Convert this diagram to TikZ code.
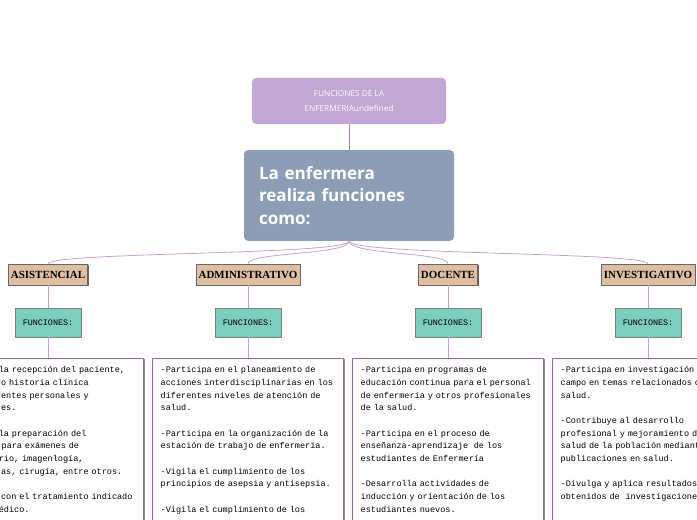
\documentclass[tikz,border=0pt]{standalone}
\usepackage{fontspec}
\setmainfont{Liberation Serif}
\setsansfont{Open Sans}
\setmonofont{Liberation Mono}
\usetikzlibrary{positioning,shadows}
\definecolor{toplila}{HTML}{C2A6D3}
\definecolor{mainblue}{HTML}{8C9DB5}
\definecolor{cattan}{HTML}{DFBFA1}
\definecolor{functeal}{HTML}{7ECEC0}
\definecolor{linkline}{HTML}{A87CC2}
\definecolor{boxline}{HTML}{9467B0}

\begin{document}
\begin{tikzpicture}[x=0.75pt,y=-0.75pt,
  title/.style={draw=none,fill=toplila,rounded corners=3pt,minimum width=145.5pt,minimum height=34.5pt,
    text=white,font=\sffamily\fontsize{6.2}{11}\selectfont,align=center},
  main/.style={draw=none,fill=mainblue,rounded corners=3pt,minimum width=157.5pt,minimum height=68pt,
    text=white,font=\sffamily\fontsize{12.8}{17}\selectfont\bfseries,align=left,text width=135pt},
  cat/.style={draw=black!60,fill=cattan,line width=0.4pt,drop shadow={shadow xshift=1pt,shadow yshift=-1pt,fill=black!60,opacity=1},
    minimum height=15.5pt,inner sep=2pt,font=\bfseries\fontsize{8.2}{9}\selectfont},
  func/.style={draw=black!50,fill=functeal,line width=0.4pt,drop shadow={shadow xshift=1pt,shadow yshift=-1pt,fill=black!60,opacity=1},
    minimum width=49.5pt,minimum height=21.5pt,font=\ttfamily\fontsize{6.3}{7}\selectfont},
  info/.style={draw=boxline,fill=white,line width=1pt,drop shadow={shadow xshift=1.2pt,shadow yshift=-0.6pt,fill=black!45,opacity=1},
    anchor=north west,align=left,inner xsep=6pt,inner ysep=6pt,text width=131pt,
    font=\ttfamily\fontsize{6.4}{9.5}\selectfont},
  link/.style={draw=linkline,line width=0.6pt},
  drop/.style={draw=linkline!70,line width=0.6pt}]
\useasboundingbox (0,0) rectangle (697,520);

% the two boxes on top
\node[title] (fun) at (349,101) {FUNCIONES DE LA\\ENFERMERIAundefined};
\node[main] (enf) at (349,195.5) {La enfermera\\realiza funciones\\como:};
\draw[link] (fun.south) -- (enf.north);

% the four kinds of function
\node[cat] (asis) at (48,274.5) {ASISTENCIAL};
\node[cat] (admi) at (248,274.5) {ADMINISTRATIVO};
\node[cat] (doce) at (448,274.5) {DOCENTE};
\node[cat] (inve) at (648,274.5) {INVESTIGATIVO};
\foreach \c in {asis,admi,doce,inve}
  \draw[drop] (enf.south) .. controls +(0,14) and +(0,-12) .. (\c.north);

% the headings below them
\node[func] (fasis) at (48,322.5) {FUNCIONES:};
\node[func] (fadmi) at (248,322.5) {FUNCIONES:};
\node[func] (fdoce) at (448,322.5) {FUNCIONES:};
\node[func] (finve) at (648,322.5) {FUNCIONES:};

% the lists
\node[info,text width=153pt] (tasis) at (-77,358) {%
-Participa en la recepción del paciente,\\
y diligenciando historia clínica\\
datos, antecedentes personales y\\
otros familiares.\\[9.5pt]
-Participa en la preparación del\\
\phantom{y del }paciente para exámenes de\\
de su laboratorio, imagenlogía,\\
citas, consultas, cirugía, entre otros.\\[9.5pt]
-Participando con el tratamiento indicado\\
del personal médico.\\ \mbox{}\\ \mbox{}};
\node[info] (tadmi) at (152,358) {%
-Participa en el planeamiento de\\
acciones interdisciplinarias en los\\
diferentes niveles de atención de\\
salud.\\[9.5pt]
-Participa en la organización de la\\
estación de trabajo de enfermería.\\[9.5pt]
-Vigila el cumplimiento de los\\
principios de asepsia y antisepsia.\\[9.5pt]
-Vigila el cumplimiento de los\\ \mbox{}\\ \mbox{}};
\node[info] (tdoce) at (352,358) {%
-Participa en programas de\\
educación continua para el personal\\
de enfermería y otros profesionales\\
de la salud.\\[9.5pt]
-Participa en el proceso de\\
enseñanza-aprendizaje\ \ de los\\
estudiantes de Enfermería\\[9.5pt]
-Desarrolla actividades de\\
inducción y orientación de los\\
estudiantes nuevos.\\ \mbox{}\\ \mbox{}};
\node[info] (tinve) at (552,358) {%
-Participa en investigación de\\
campo en temas relacionados con la\\
salud.\\[9.5pt]
-Contribuye al desarrollo\\
profesional y mejoramiento de la\\
salud de la población mediante\\
publicaciones en salud.\\[9.5pt]
-Divulga y aplica resultados\\
obtenidos de\ \ investigaciones.\\ \mbox{}\\ \mbox{}};

\foreach \c in {asis,admi,doce,inve}{
  \draw[drop] (\c.south) -- (f\c.north);
  \draw[drop] (f\c.south) -- (f\c.south |- t\c.north);
}
\end{tikzpicture}
\end{document}
